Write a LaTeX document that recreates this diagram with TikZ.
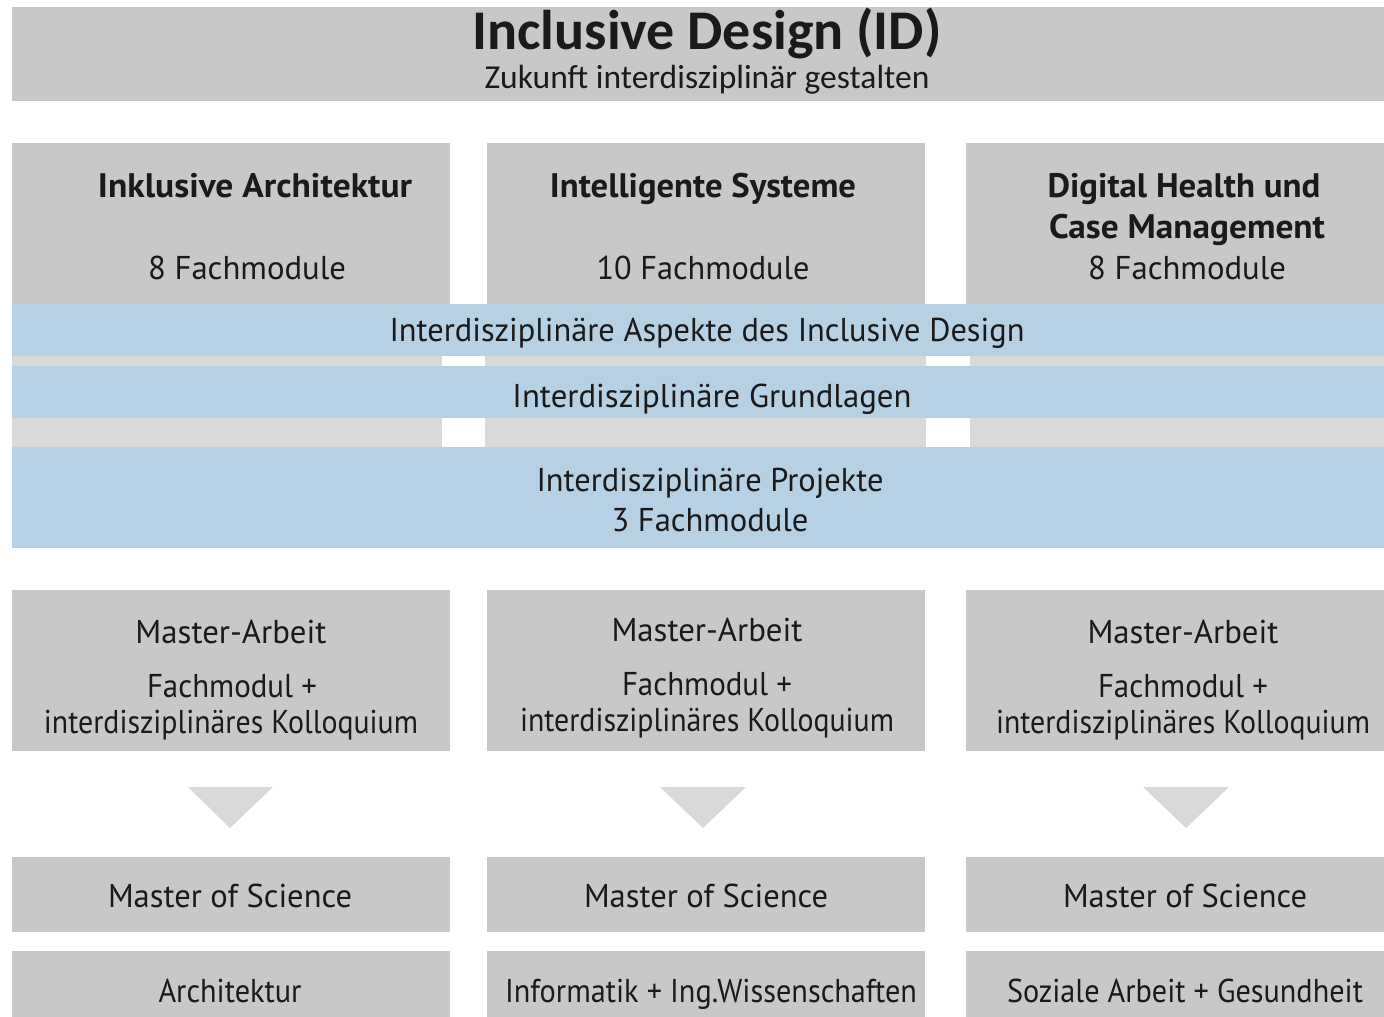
\documentclass[tikz,border=0pt]{standalone}
\usepackage{fontspec}
\usepackage{graphicx}
\setmainfont{PT Sans}
\newfontfamily\titlefont{Carlito}
\newcommand{\fitw}[2]{\resizebox{#1pt}{\height}{#2}}
\definecolor{boxgray}{HTML}{C7C8CA}
\definecolor{bandblue}{HTML}{B6D1E4}
\definecolor{stripgray}{HTML}{D9D9DA}
\definecolor{trigray}{HTML}{D9D9DB}
\definecolor{ink}{HTML}{1A1A1A}
\tikzset{
  gbox/.style={fill=boxgray},
  bband/.style={fill=bandblue},
  gstrip/.style={fill=stripgray},
  gap/.style={fill=white},
  downtri/.style={fill=trigray},
  txt/.style={anchor=base, inner sep=0pt, text=ink, font=\fontsize{33}{36}\selectfont},
  btxt/.style={txt, font=\fontsize{34}{36}\selectfont\bfseries},
}
\begin{document}
\begin{tikzpicture}[x=1pt,y=-1pt]
\useasboundingbox[fill=white] (0,0) rectangle (1384,1017);
% title
\fill[gbox] (12,7) rectangle (1384,101);
\node[txt, font=\titlefont\fontsize{56}{60}\selectfont\bfseries] (title) at (707,49) {Inclusive Design (ID)};
\node[txt, font=\titlefont\fontsize{33.5}{36}\selectfont] (subtitle) at (707,88) {\fitw{445}{Zukunft interdisziplinär gestalten}};
% top column boxes
\fill[gbox] (12,143) rectangle (450,304);
\fill[gbox] (487,143) rectangle (925,304);
\fill[gbox] (966,143) rectangle (1384,304);
\node[btxt] (h1) at (255,197) {\fitw{314}{Inklusive Architektur}};
\node[txt] (f1) at (247,279) {\fitw{198}{8 Fachmodule}};
\node[btxt] (h2) at (703,197) {\fitw{306}{Intelligente Systeme}};
\node[txt] (f2) at (703,279) {\fitw{213}{10 Fachmodule}};
\node[btxt] (h3a) at (1184,197) {\fitw{273}{Digital Health und}};
\node[btxt] (h3b) at (1187,238) {\fitw{276}{Case Management}};
\node[txt] (f3) at (1187,279) {\fitw{198}{8 Fachmodule}};
% interdisciplinary bands
\fill[bband] (12,304) rectangle (1384,356);
\fill[gstrip] (12,356) rectangle (1384,366);
\fill[bband] (12,366) rectangle (1384,418);
\fill[gstrip] (12,418) rectangle (1384,447);
\fill[bband] (12,447) rectangle (1384,548);
\fill[gap] (442,356) rectangle (485,366);
\fill[gap] (926,356) rectangle (970,366);
\fill[gap] (442,418) rectangle (485,447);
\fill[gap] (926,418) rectangle (970,447);
\fill[gap] (450,290) rectangle (487,304);
\fill[gap] (925,290) rectangle (966,304);
\node[txt] (asp) at (707,341) {\fitw{635}{Interdisziplinäre Aspekte des Inclusive Design}};
\node[txt] (grund) at (712,407) {\fitw{399}{Interdisziplinäre Grundlagen}};
\node[txt] (proj) at (710,491) {\fitw{347}{Interdisziplinäre Projekte}};
\node[txt] (projf) at (710,531) {\fitw{197}{3 Fachmodule}};
% master thesis boxes
\fill[gbox] (12,590) rectangle (450,751);
\fill[gbox] (487,590) rectangle (925,751);
\fill[gbox] (966,590) rectangle (1384,751);
\node[txt] (ma1) at (231,643) {\fitw{191}{Master-Arbeit}};
\node[txt] (fm1) at (232,697) {\fitw{170}{Fachmodul +}};
\node[txt] (ko1) at (231,733) {\fitw{374}{interdisziplinäres Kolloquium}};
\node[txt] (ma2) at (707,641) {\fitw{191}{Master-Arbeit}};
\node[txt] (fm2) at (707,695) {\fitw{170}{Fachmodul +}};
\node[txt] (ko2) at (707,731) {\fitw{374}{interdisziplinäres Kolloquium}};
\node[txt] (ma3) at (1183,643) {\fitw{191}{Master-Arbeit}};
\node[txt] (fm3) at (1183,697) {\fitw{170}{Fachmodul +}};
\node[txt] (ko3) at (1183,733) {\fitw{374}{interdisziplinäres Kolloquium}};
% arrows (triangles)
\fill[downtri] (188,787) -- (273,787) -- (230,828) -- cycle;
\fill[downtri] (660,787) -- (746,787) -- (703,828) -- cycle;
\fill[downtri] (1143,787) -- (1229,787) -- (1186,828) -- cycle;
% degree boxes
\fill[gbox] (12,857) rectangle (450,932);
\fill[gbox] (487,857) rectangle (925,932);
\fill[gbox] (966,857) rectangle (1384,932);
\node[txt] (ms1) at (230,907) {\fitw{244}{Master of Science}};
\node[txt] (ms2) at (706,907) {\fitw{244}{Master of Science}};
\node[txt] (ms3) at (1185,907) {\fitw{244}{Master of Science}};
% subject boxes
\fill[gbox] (12,951) rectangle (450,1017);
\fill[gbox] (487,951) rectangle (925,1017);
\fill[gbox] (966,951) rectangle (1384,1017);
\node[txt] (s1) at (230,1002) {\fitw{143}{Architektur}};
\node[txt] (s2) at (711,1002) {\fitw{412}{Informatik + Ing.Wissenschaften}};
\node[txt] (s3) at (1185,1002) {\fitw{356}{Soziale Arbeit + Gesundheit}};
\end{tikzpicture}
\end{document}
